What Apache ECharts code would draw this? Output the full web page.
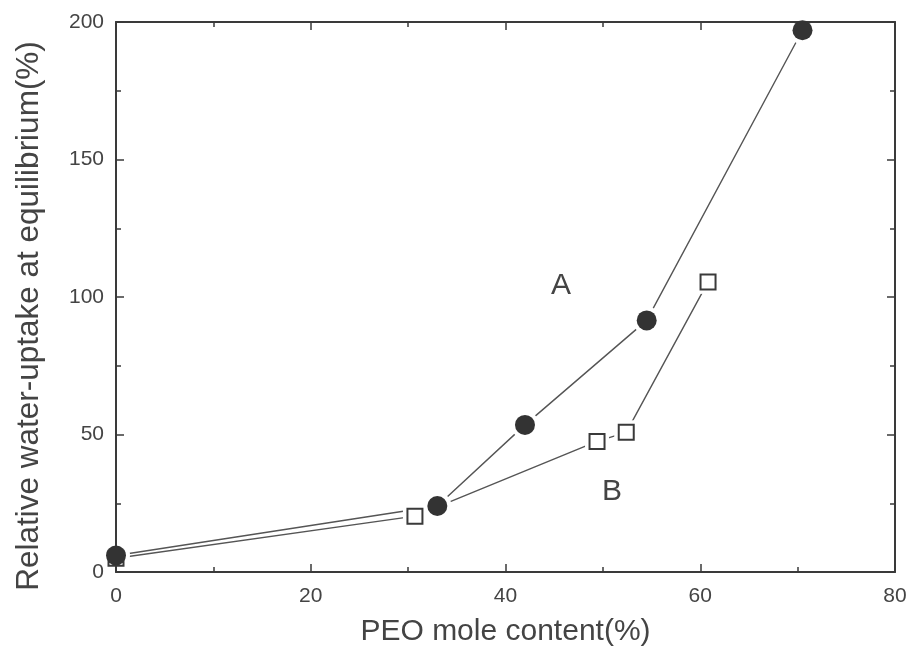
<!DOCTYPE html>
<html><head><meta charset="utf-8">
<script src="https://cdn.jsdelivr.net/npm/echarts@6/dist/echarts.min.js"></script>
<style>html,body{margin:0;padding:0;background:#fff}#c{width:911px;height:653px}</style>
</head><body><div id="c"></div>
<script>
const xA = [0, 33, 42, 54.5, 70.5];
const yA = [6, 24, 53.5, 91.5, 197];
const xB = [0, 30.7, 49.4, 52.4, 60.8];
const yB = [5, 20.3, 47.5, 50.8, 105.5];
const xTicks = [0, 20, 40, 60, 80];
const yTicks = [0, 50, 100, 150, 200];

const A = xA.map((x, i) => [x, yA[i]]);
const B = xB.map((x, i) => [x, yB[i]]);
const ink = '#3a3a3a';
const font = 'Liberation Sans, Arial, sans-serif';

const axisCommon = {
  min: 0, z: 5,
  axisLine: { show: true, onZero: false, lineStyle: { color: ink, width: 2 } },
  axisTick: { show: true, inside: true, length: 8, lineStyle: { color: ink, width: 1.5 } },
  minorTick: { show: true, splitNumber: 2, length: 5, lineStyle: { color: ink, width: 1.5 } },
  splitLine: { show: false },
};

const chart = echarts.init(document.getElementById('c'));
chart.setOption({
  animation: false,
  backgroundColor: '#fff',
  grid: { left: 116, right: 16, top: 22, bottom: 81 },
  xAxis: [
    Object.assign({}, axisCommon, {
      type: 'value', position: 'bottom', max: 80, interval: 20,
      name: 'PEO mole content(%)', nameLocation: 'middle', nameGap: 45,
      nameTextStyle: { fontFamily: font, fontSize: 30, color: '#444' },
      axisLabel: { margin: 14, fontFamily: font, fontSize: 21, color: '#444',
        formatter: v => xTicks.includes(v) ? String(v) : '' }
    }),
    Object.assign({}, axisCommon, {
      type: 'value', position: 'top', max: 80, interval: 20, axisLabel: { show: false }
    })
  ],
  yAxis: [
    Object.assign({}, axisCommon, {
      type: 'value', position: 'left', max: 200, interval: 50,
      name: 'Relative water-uptake at equilibrium(%)', nameLocation: 'middle', nameGap: 71,
      nameTextStyle: { fontFamily: font, fontSize: 31.5, color: '#444', padding: [0, 38, 0, 0] },
      axisLabel: { margin: 12, fontFamily: font, fontSize: 21, color: '#444',
        formatter: v => yTicks.includes(v) ? String(v) : '' }
    }),
    Object.assign({}, axisCommon, {
      type: 'value', position: 'right', max: 200, interval: 50, axisLabel: { show: false }
    })
  ],
  series: [
    { type: 'line', data: A, showSymbol: false, z: 1, lineStyle: { color: '#555', width: 1.4 } },
    { type: 'line', data: B, showSymbol: false, z: 1, lineStyle: { color: '#555', width: 1.4 } },
    { type: 'scatter', data: B, symbol: 'rect', symbolSize: 24, z: 2, itemStyle: { color: '#fff', opacity: 1 }, silent: true },
    { type: 'scatter', data: A, symbol: 'circle', symbolSize: 28, z: 2, itemStyle: { color: '#fff', opacity: 1 }, silent: true },
    { type: 'scatter', data: B, symbol: 'rect', symbolSize: 15, z: 6,
      itemStyle: { color: '#fff', borderColor: ink, borderWidth: 2, opacity: 1 } },
    { type: 'scatter', data: A, symbol: 'circle', symbolSize: 20, z: 7,
      itemStyle: { color: '#333', opacity: 1 } }
  ],
  graphic: [
    { type: 'text', left: 551, top: 271, z: 10, style: { text: 'A', font: '30px ' + font, fill: '#444' } },
    { type: 'text', left: 602, top: 477, z: 10, style: { text: 'B', font: '30px ' + font, fill: '#444' } }
  ]
});
</script></body></html>
